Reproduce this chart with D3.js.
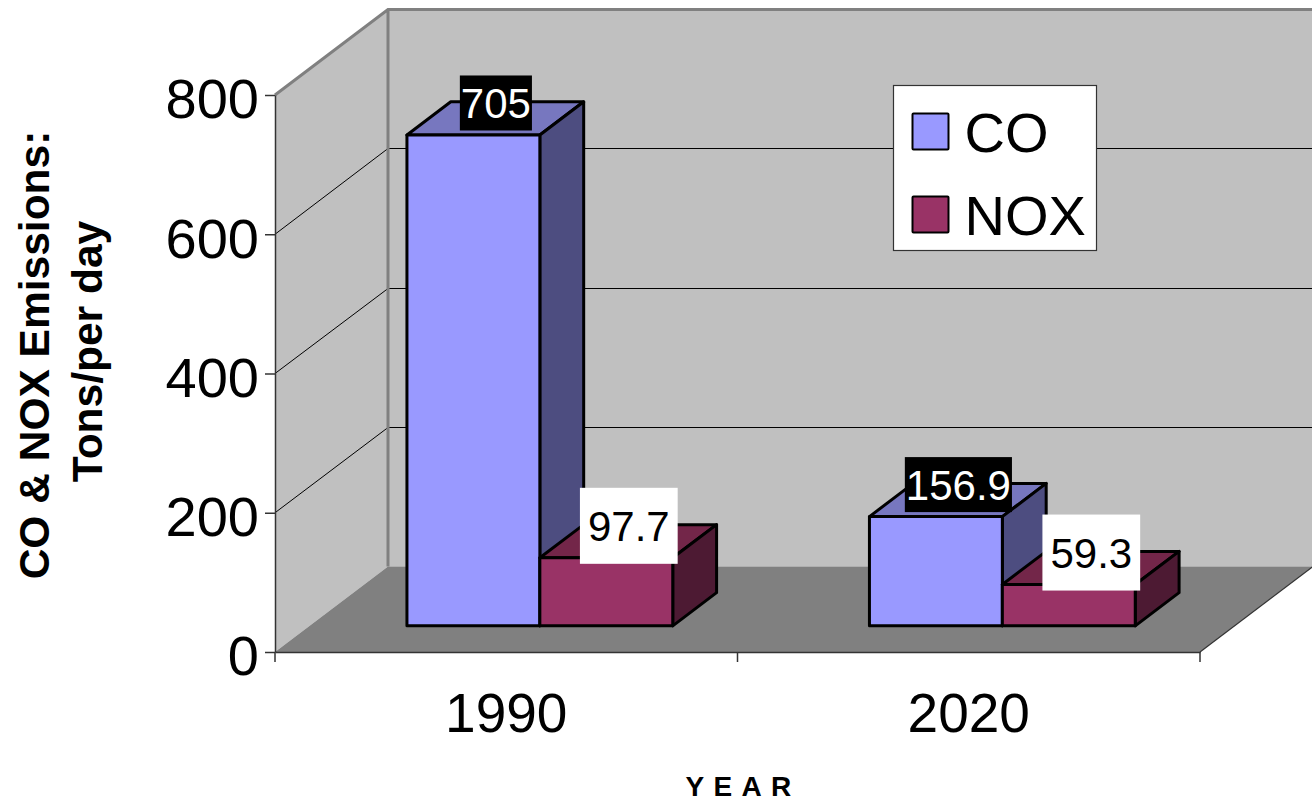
<!DOCTYPE html>
<html>
<head>
<meta charset="utf-8">
<script src="https://cdnjs.cloudflare.com/ajax/libs/d3/7.8.5/d3.min.js"></script>
<style>
  html, body { margin: 0; padding: 0; background: #fff; }
  svg { display: block; font-family: "Liberation Sans", Arial, sans-serif; }
</style>
</head>
<body>
<svg id="chart"></svg>
<script>
"use strict";

// data
const years = ["1990", "2020"];
const seriesNames = ["CO", "NOX"];
const coValues = [705, 156.9];
const noxValues = [97.7, 59.3];
const yTicks = [0, 200, 400, 600, 800];

const width = 1312;
const height = 802;

const svg = d3.select("#chart").attr("width", width).attr("height", height);

// scales work on the front plane, depth shifts things back
const x = d3.scaleBand().domain(years).range([275, 1200]);
const xSeries = d3
  .scaleBand()
  .domain(seriesNames)
  .range([0, x.bandwidth()])
  .paddingOuter(0.74)
  .paddingInner(0)
  .align(0.495);
const y = d3.scaleLinear().domain([0, 800]).range([652, 95]);

const depthX = 113;
const depthY = 85.5;
const px = (v, d) => v + d * depthX;
const py = (v, d) => v - d * depthY;
const line = (pts) => "M" + pts.map((p) => p.join(",")).join("L") + "Z";

const x0 = x.range()[0];
const x1 = x.range()[1];
const y0 = y(0);
const yTop = y(800);

// back wall
svg
  .append("rect")
  .attr("x", px(x0, 1))
  .attr("y", py(yTop, 1))
  .attr("width", width - px(x0, 1))
  .attr("height", y0 - yTop)
  .attr("fill", "#c0c0c0");

// side wall
svg
  .append("path")
  .attr("d", line([[x0, yTop], [px(x0, 1), py(yTop, 1)], [px(x0, 1), py(y0, 1)], [x0, y0]]))
  .attr("fill", "#c0c0c0");

// floor
svg
  .append("path")
  .attr("d", line([[x0, y0], [x1, y0], [px(x1, 1), py(y0, 1)], [px(x0, 1), py(y0, 1)]]))
  .attr("fill", "#808080");

// gridlines, snapped so the flat part stays crisp
const grid = svg.append("g").attr("stroke", "#000").attr("stroke-width", 1).attr("fill", "none");
grid
  .selectAll("path")
  .data(yTicks.slice(1))
  .join("path")
  .attr("d", (d) => {
    const by = Math.floor(py(y(d), 1)) + 0.5;
    return `M${x0},${y(d)}L${px(x0, 1)},${by}L${width},${by}`;
  });

// wall edges
svg
  .append("path")
  .attr("d", `M${x0},${yTop}L${px(x0, 1)},${py(yTop, 1)}L${width},${py(yTop, 1)}M${px(x0, 1)},${py(yTop, 1)}V${py(y0, 1)}`)
  .attr("fill", "none")
  .attr("stroke", "#808080")
  .attr("stroke-width", 3);

// floor right edge
svg
  .append("line")
  .attr("x1", x1)
  .attr("y1", y0)
  .attr("x2", px(x1, 1))
  .attr("y2", py(y0, 1))
  .attr("stroke", "#333")
  .attr("stroke-width", 1.2);

// axes
const yAxis = svg
  .append("g")
  .attr("transform", `translate(${x0},0)`)
  .call(d3.axisLeft(y).tickValues(yTicks).tickFormat(d3.format("d")).tickSize(10).tickSizeOuter(0).tickPadding(6));
yAxis.select(".domain").attr("stroke", "#333").attr("stroke-width", 1.5);
yAxis.selectAll(".tick line").attr("stroke", "#333").attr("stroke-width", 1.5);
yAxis.selectAll("text").attr("font-size", 56).attr("font-family", "Liberation Sans").attr("fill", "#000").attr("dy", "0.41em");

const xAxis = svg
  .append("g")
  .attr("transform", `translate(0,${y0})`)
  .call(d3.axisBottom(x).tickSize(0).tickSizeOuter(0).tickPadding(41));
xAxis.select(".domain").attr("stroke", "#333").attr("stroke-width", 1.5);
xAxis.selectAll("text").attr("font-size", 55).attr("font-family", "Liberation Sans").attr("fill", "#000");
// ticks sit between the categories, not under them
xAxis
  .selectAll("line.edge")
  .data([...years.map((d) => x(d)), x1])
  .join("line")
  .attr("class", "edge")
  .attr("x1", (d) => d)
  .attr("x2", (d) => d)
  .attr("y1", 0)
  .attr("y2", 10)
  .attr("stroke", "#333")
  .attr("stroke-width", 1.5);

// bars
const barFront = 0.306;
const barBack = 0.694;
const colors = {
  CO: { front: "#9999ff", top: "#7777bf", side: "#4d4d80" },
  NOX: { front: "#993366", top: "#732649", side: "#4d1a33" },
};
const rows = [];
seriesNames.forEach((s, si) => {
  const vals = si === 0 ? coValues : noxValues;
  years.forEach((yr, i) => rows.push({ series: s, year: yr, value: vals[i] }));
});

const bars = svg
  .append("g")
  .selectAll("g")
  .data(rows)
  .join("g")
  .attr("stroke", "#000")
  .attr("stroke-width", 3)
  .attr("stroke-linejoin", "round");

const left = (d) => x(d.year) + xSeries(d.series);
const right = (d) => left(d) + xSeries.bandwidth();

bars
  .append("path")
  .attr("fill", (d) => colors[d.series].top)
  .attr("d", (d) => line([
    [px(left(d), barFront), py(y(d.value), barFront)],
    [px(right(d), barFront), py(y(d.value), barFront)],
    [px(right(d), barBack), py(y(d.value), barBack)],
    [px(left(d), barBack), py(y(d.value), barBack)],
  ]));
bars
  .append("path")
  .attr("fill", (d) => colors[d.series].side)
  .attr("d", (d) => line([
    [px(right(d), barFront), py(y(d.value), barFront)],
    [px(right(d), barBack), py(y(d.value), barBack)],
    [px(right(d), barBack), py(y0, barBack)],
    [px(right(d), barFront), py(y0, barFront)],
  ]));
bars
  .append("path")
  .attr("fill", (d) => colors[d.series].front)
  .attr("d", (d) => line([
    [px(left(d), barFront), py(y(d.value), barFront)],
    [px(right(d), barFront), py(y(d.value), barFront)],
    [px(right(d), barFront), py(y0, barFront)],
    [px(left(d), barFront), py(y0, barFront)],
  ]));

// value labels, CO is white on black and NOX black on white
const labelStyle = {
  CO: { bg: "#000", fg: "#fff", padX: 1, h: 55 },
  NOX: { bg: "#fff", fg: "#000", padX: 8, h: 76 },
};
const labels = svg.append("g").selectAll("g").data(rows).join("g")
  .attr("transform", (d) => {
    const cx = px((left(d) + right(d)) / 2, barFront) + 22.5;
    const cy = py(y(d.value), barFront) - 32;
    return `translate(${cx},${cy})`;
  });
labels.append("rect").attr("class", "bg");
labels
  .append("text")
  .attr("text-anchor", "middle")
  .attr("dy", "0.36em")
  .attr("font-size", 42)
  .attr("fill", (d) => labelStyle[d.series].fg)
  .text((d) => d.value);
labels.each(function (d) {
  const st = labelStyle[d.series];
  const w = this.querySelector("text").getComputedTextLength() + st.padX * 2;
  d3.select(this)
    .select("rect")
    .attr("x", -w / 2)
    .attr("y", -st.h / 2)
    .attr("width", w)
    .attr("height", st.h)
    .attr("fill", st.bg);
});

// legend
const legend = svg.append("g").attr("transform", "translate(893.5,85.5)");
legend
  .append("rect")
  .attr("width", 203)
  .attr("height", 165)
  .attr("fill", "#fff")
  .attr("stroke", "#333")
  .attr("stroke-width", 1.2);
const legendItems = legend
  .selectAll("g")
  .data(seriesNames)
  .join("g")
  .attr("transform", (d) => `translate(19,${d === "CO" ? 28 : 111})`);
legendItems
  .append("rect")
  .attr("width", 36)
  .attr("height", 36)
  .attr("rx", 1)
  .attr("fill", (d) => colors[d].front)
  .attr("stroke", "#000")
  .attr("stroke-width", 2);
legendItems
  .append("text")
  .attr("x", 52)
  .attr("y", 18)
  .attr("dy", "0.37em")
  .attr("font-size", 56)
  .text((d) => d);

// axis titles
const yTitle = svg
  .append("text")
  .attr("transform", "translate(0,352) rotate(-90)")
  .attr("text-anchor", "middle")
  .attr("font-size", 42.5)
  .attr("font-weight", "bold");
yTitle.append("tspan").attr("x", -3).attr("y", 49).text("CO & NOX Emissions:");
yTitle.append("tspan").attr("x", 0.5).attr("y", 102).text("Tons/per day");

svg
  .append("text")
  .attr("x", 743)
  .attr("y", 796)
  .attr("text-anchor", "middle")
  .attr("font-size", 28)
  .attr("font-weight", "bold")
  .attr("letter-spacing", 9.3)
  .text("YEAR");
</script>
</body>
</html>
